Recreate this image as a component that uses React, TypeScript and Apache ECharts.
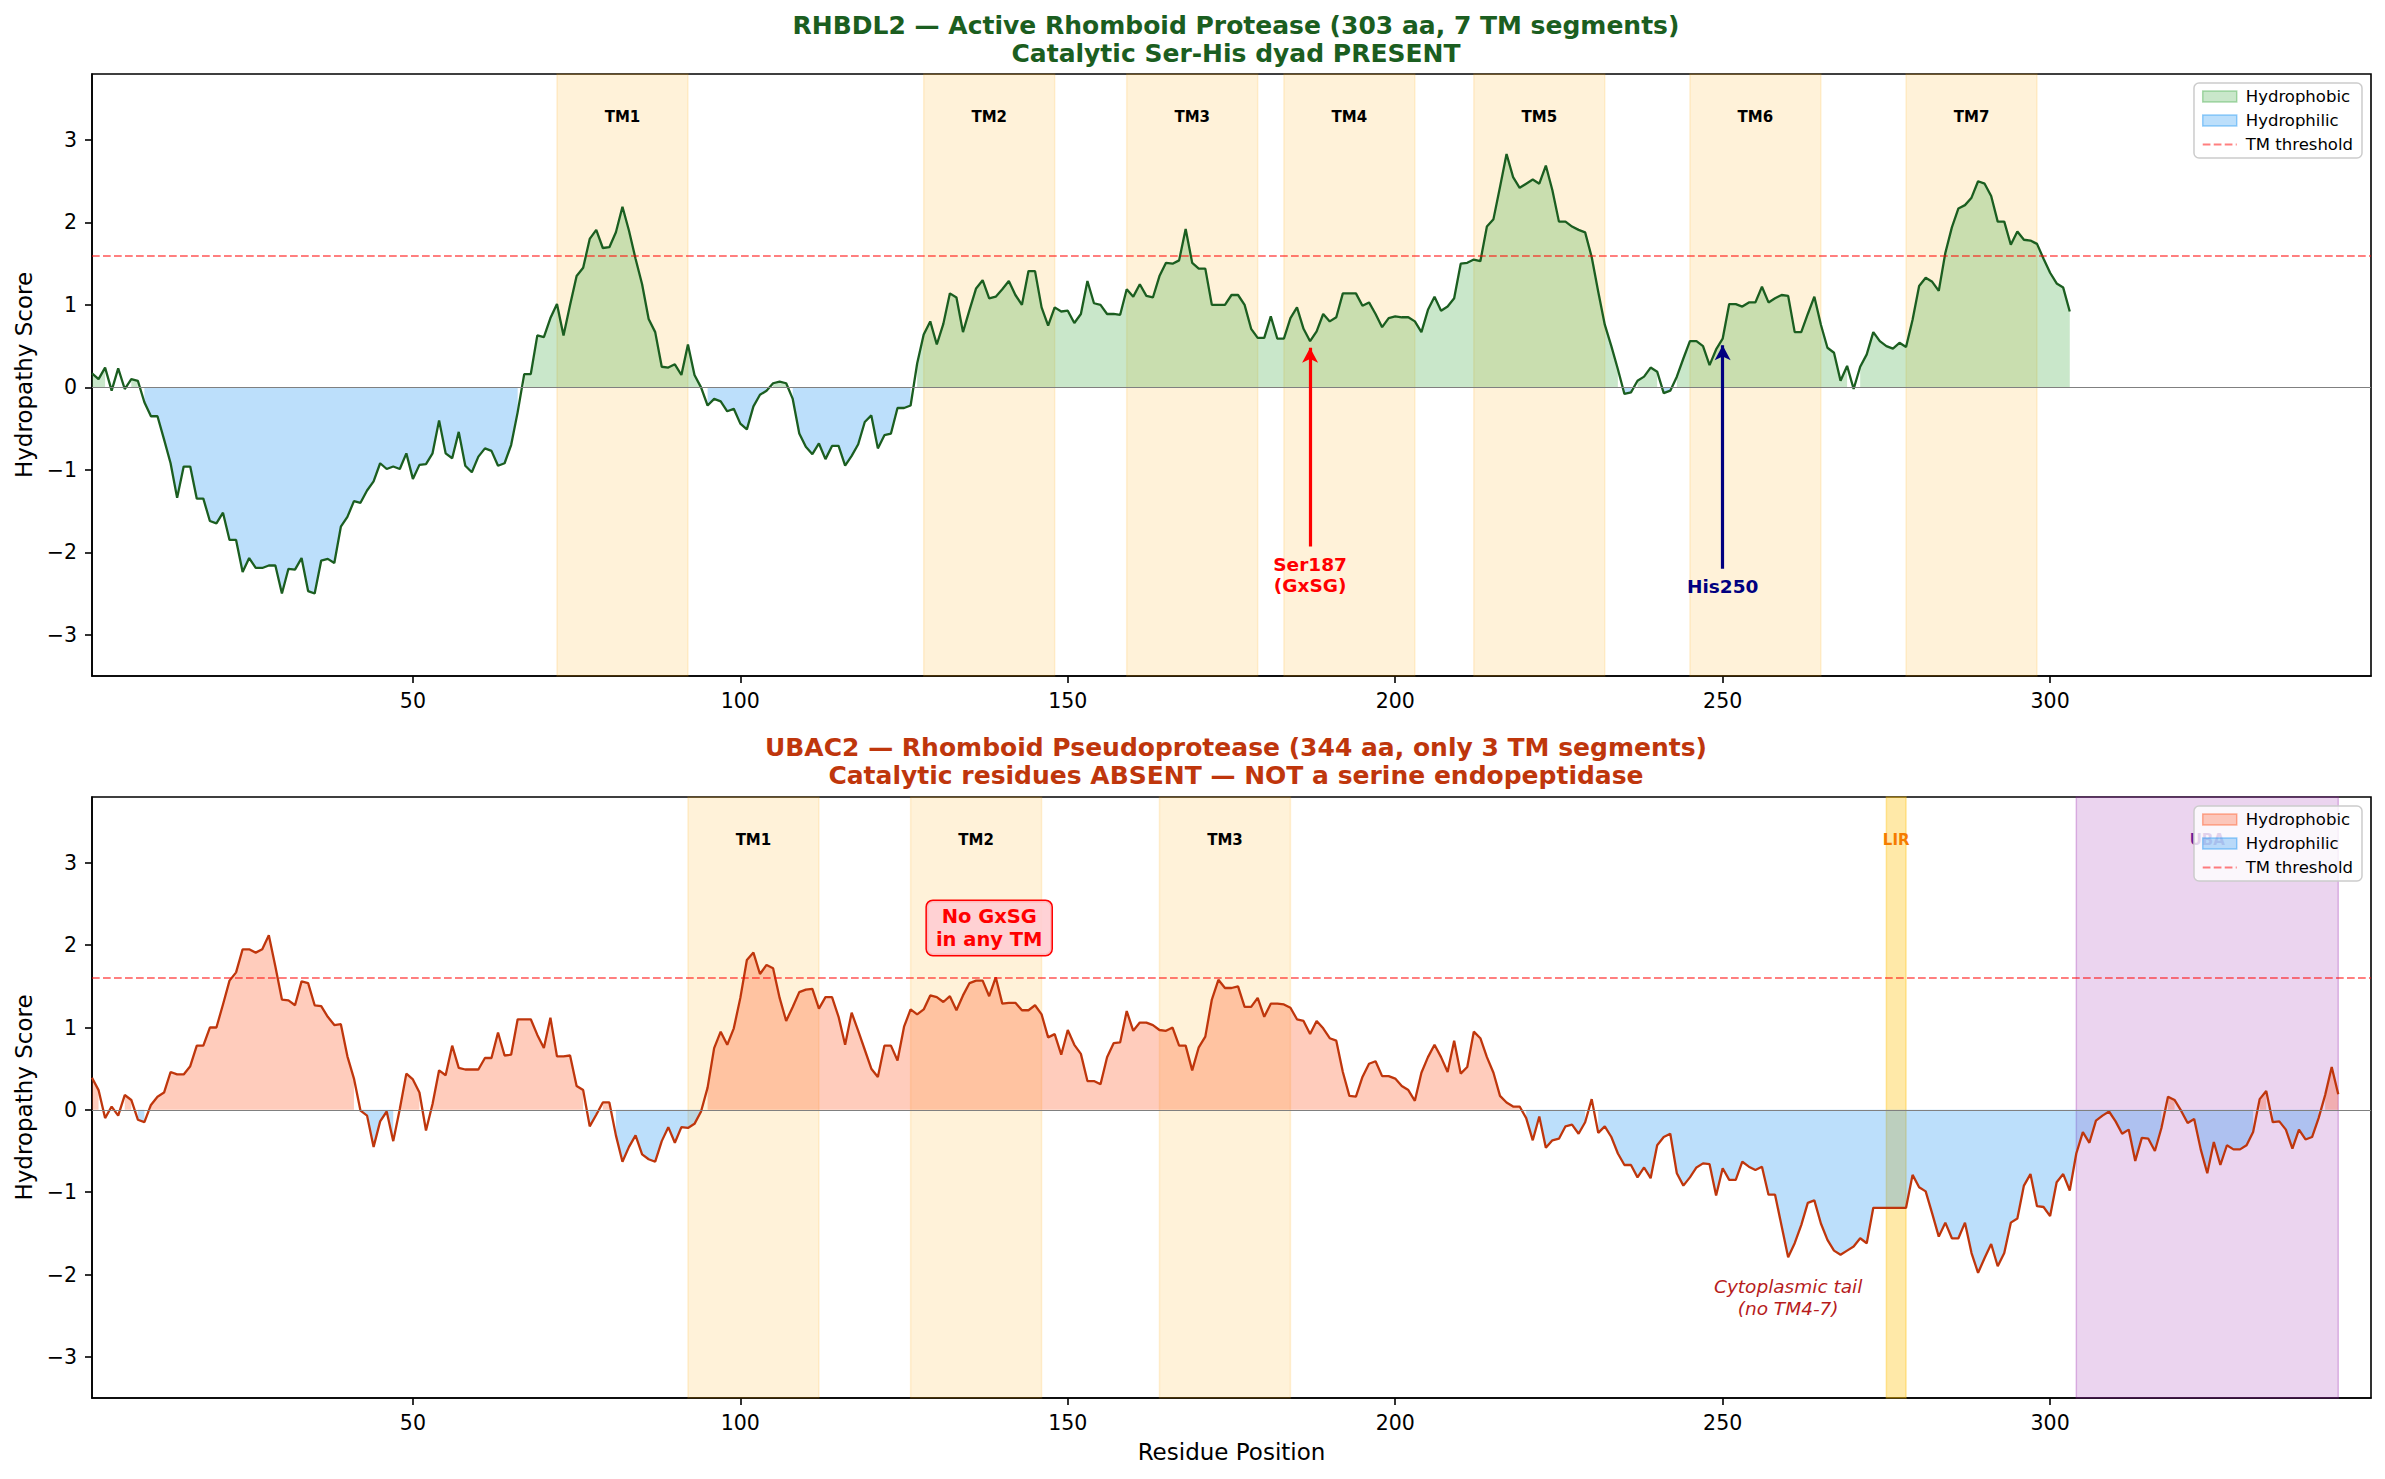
import React, { useEffect, useRef } from 'react';
import * as echarts from 'echarts';

const FONT = 'DejaVu Sans';

// hydropathy score per residue, residue 1 first
const RHBDL2_SCORES = [
    0.17, 0.10, 0.24, -0.04, 0.23, -0.02, 0.10, 0.08, -0.18, -0.35,
    -0.35, -0.63, -0.92, -1.34, -0.96, -0.96, -1.35, -1.35, -1.62, -1.65,
    -1.52, -1.85, -1.85, -2.24, -2.07, -2.19, -2.19, -2.16, -2.16, -2.50,
    -2.20, -2.21, -2.07, -2.47, -2.50, -2.10, -2.08, -2.13, -1.69, -1.57,
    -1.38, -1.40, -1.25, -1.14, -0.92, -0.99, -0.96, -0.99, -0.80, -1.11,
    -0.94, -0.93, -0.80, -0.40, -0.80, -0.86, -0.54, -0.95, -1.03, -0.84,
    -0.74, -0.77, -0.95, -0.92, -0.70, -0.30, 0.16, 0.16, 0.63, 0.61,
    0.84, 1.01, 0.63, 1.00, 1.35, 1.45, 1.80, 1.91, 1.69, 1.70,
    1.88, 2.19, 1.90, 1.56, 1.25, 0.83, 0.67, 0.25, 0.24, 0.28,
    0.15, 0.52, 0.15, 0.00, -0.22, -0.14, -0.17, -0.29, -0.26, -0.44,
    -0.51, -0.23, -0.09, -0.04, 0.05, 0.07, 0.05, -0.14, -0.56, -0.72,
    -0.81, -0.68, -0.87, -0.71, -0.71, -0.95, -0.83, -0.69, -0.42, -0.34,
    -0.74, -0.58, -0.56, -0.25, -0.25, -0.22, 0.29, 0.64, 0.80, 0.52,
    0.77, 1.14, 1.09, 0.67, 0.94, 1.20, 1.30, 1.08, 1.10, 1.19,
    1.29, 1.12, 1.00, 1.41, 1.41, 0.97, 0.75, 0.97, 0.92, 0.93,
    0.78, 0.89, 1.29, 1.02, 1.00, 0.89, 0.89, 0.88, 1.19, 1.10,
    1.25, 1.11, 1.09, 1.35, 1.51, 1.50, 1.54, 1.92, 1.51, 1.44,
    1.44, 1.00, 1.00, 1.00, 1.12, 1.12, 1.00, 0.71, 0.60, 0.60,
    0.86, 0.59, 0.59, 0.84, 0.97, 0.71, 0.56, 0.68, 0.89, 0.80,
    0.85, 1.14, 1.14, 1.14, 0.99, 1.03, 0.89, 0.73, 0.84, 0.86,
    0.85, 0.85, 0.80, 0.67, 0.94, 1.10, 0.93, 0.98, 1.08, 1.50,
    1.51, 1.55, 1.53, 1.95, 2.04, 2.43, 2.83, 2.55, 2.42, 2.47,
    2.52, 2.47, 2.69, 2.39, 2.01, 2.01, 1.95, 1.91, 1.88, 1.58,
    1.16, 0.76, 0.50, 0.22, -0.08, -0.06, 0.08, 0.13, 0.24, 0.19,
    -0.07, -0.04, 0.13, 0.35, 0.56, 0.56, 0.50, 0.27, 0.46, 0.59,
    1.01, 1.01, 0.98, 1.03, 1.03, 1.22, 1.03, 1.08, 1.12, 1.11,
    0.67, 0.67, 0.89, 1.10, 0.76, 0.48, 0.42, 0.08, 0.26, -0.02,
    0.25, 0.40, 0.67, 0.56, 0.50, 0.47, 0.54, 0.49, 0.82, 1.23,
    1.33, 1.28, 1.17, 1.63, 1.94, 2.17, 2.21, 2.30, 2.50, 2.47,
    2.32, 2.01, 2.01, 1.73, 1.89, 1.79, 1.78, 1.74, 1.56, 1.39,
    1.26, 1.21, 0.92,
];

const UBAC2_SCORES = [
    0.39, 0.24, -0.10, 0.04, -0.07, 0.18, 0.12, -0.12, -0.15, 0.06,
    0.16, 0.21, 0.46, 0.43, 0.43, 0.53, 0.78, 0.78, 1.00, 1.00,
    1.28, 1.57, 1.67, 1.95, 1.95, 1.91, 1.95, 2.12, 1.74, 1.34,
    1.33, 1.27, 1.56, 1.54, 1.27, 1.26, 1.13, 1.03, 1.04, 0.65,
    0.38, -0.01, -0.07, -0.45, -0.14, -0.02, -0.38, 0.01, 0.44, 0.37,
    0.21, -0.25, 0.07, 0.48, 0.42, 0.78, 0.51, 0.49, 0.49, 0.49,
    0.63, 0.63, 0.94, 0.66, 0.67, 1.10, 1.10, 1.10, 0.91, 0.75,
    1.12, 0.65, 0.65, 0.66, 0.29, 0.24, -0.20, -0.06, 0.09, 0.09,
    -0.31, -0.63, -0.45, -0.31, -0.54, -0.60, -0.63, -0.38, -0.21, -0.40,
    -0.21, -0.22, -0.17, -0.02, 0.27, 0.75, 0.95, 0.79, 0.99, 1.36,
    1.82, 1.91, 1.65, 1.76, 1.72, 1.36, 1.08, 1.25, 1.43, 1.46,
    1.47, 1.23, 1.37, 1.37, 1.13, 0.79, 1.18, 0.96, 0.73, 0.50,
    0.40, 0.78, 0.78, 0.60, 1.01, 1.22, 1.16, 1.22, 1.39, 1.37,
    1.31, 1.38, 1.21, 1.39, 1.54, 1.57, 1.57, 1.38, 1.61, 1.29,
    1.30, 1.30, 1.21, 1.21, 1.27, 1.16, 0.88, 0.92, 0.67, 0.97,
    0.79, 0.68, 0.35, 0.35, 0.31, 0.64, 0.81, 0.82, 1.20, 0.96,
    1.06, 1.06, 1.03, 0.97, 0.96, 1.00, 0.78, 0.78, 0.48, 0.76,
    0.89, 1.34, 1.58, 1.48, 1.48, 1.50, 1.25, 1.25, 1.36, 1.13,
    1.29, 1.29, 1.28, 1.24, 1.10, 1.08, 0.92, 1.08, 0.99, 0.87,
    0.84, 0.46, 0.17, 0.16, 0.40, 0.56, 0.59, 0.41, 0.41, 0.38,
    0.29, 0.24, 0.11, 0.45, 0.64, 0.79, 0.64, 0.46, 0.84, 0.44,
    0.52, 0.95, 0.87, 0.64, 0.45, 0.17, 0.09, 0.04, 0.04, -0.10,
    -0.37, -0.08, -0.46, -0.37, -0.35, -0.20, -0.18, -0.29, -0.15, 0.13,
    -0.28, -0.20, -0.33, -0.53, -0.67, -0.67, -0.82, -0.70, -0.83, -0.43,
    -0.33, -0.29, -0.77, -0.92, -0.82, -0.70, -0.65, -0.66, -1.04, -0.71,
    -0.85, -0.85, -0.63, -0.69, -0.73, -0.69, -1.03, -1.03, -1.41, -1.79,
    -1.62, -1.40, -1.13, -1.10, -1.38, -1.58, -1.71, -1.76, -1.71, -1.66,
    -1.56, -1.62, -1.19, -1.19, -1.19, -1.19, -1.19, -1.19, -0.79, -0.94,
    -0.99, -1.26, -1.54, -1.37, -1.56, -1.56, -1.37, -1.74, -1.98, -1.80,
    -1.63, -1.90, -1.74, -1.37, -1.32, -0.92, -0.78, -1.17, -1.18, -1.29,
    -0.88, -0.78, -0.98, -0.53, -0.27, -0.40, -0.13, -0.07, -0.02, -0.14,
    -0.29, -0.24, -0.62, -0.34, -0.35, -0.50, -0.22, 0.16, 0.12, -0.01,
    -0.16, -0.11, -0.48, -0.77, -0.39, -0.67, -0.43, -0.48, -0.48, -0.43,
    -0.27, 0.13, 0.23, -0.15, -0.14, -0.24, -0.47, -0.24, -0.36, -0.33,
    -0.10, 0.18, 0.52, 0.19,
];

const RHBDL2_TM = [[72, 92], [128, 148], [159, 179], [183, 203], [212, 232], [245, 265], [278, 298]];
const UBAC2_TM = [[92, 112], [126, 146], [164, 184]];
const LIR_SPAN = [275, 278];
const UBA_SPAN = [304, 344];

const TM_THRESHOLD = 1.6;
const X_TICKS = [50, 100, 150, 200, 250, 300];
const Y_TICKS = [-3, -2, -1, 0, 1, 2, 3];
const X_MIN = 1;
const X_MAX = 349;
const Y_MIN = -3.5;
const Y_MAX = 3.8;

const SER_SITE = 187;
const HIS_SITE = 250;

// dashed line icon for legend, with tiny corner points so it keeps its box
const DASH_ICON = 'path://M0,0L0.01,0L0,0.01Z M34,11L33.99,11L34,10.99Z M0,4.6h7.7v1.8h-7.7Z M11,4.6h7.7v1.8h-7.7Z M22,4.6h7.7v1.8h-7.7Z M33,4.6h1v1.8h-1Z';

const AXIS_LINE = { color: '#000', width: 1.6 };

const fmtTick = (v: number) => (v < 0 ? '\u2212' + Math.abs(v) : String(v));
const asPairs = (vals: number[]) => vals.map((v, i) => [i + 1, v]);
const keepIf = (vals: number[], test: (v: number) => boolean) =>
    vals.map((v, i) => [i + 1, test(v) ? v : null]);

const makeXAxis = (gridIndex: number, name: string) => ({
    type: 'value',
    gridIndex,
    min: X_MIN,
    max: X_MAX,
    name,
    nameLocation: 'middle',
    nameGap: 42,
    nameTextStyle: { fontFamily: FONT, fontSize: 23, color: '#000' },
    axisLine: { show: true, onZero: false, lineStyle: AXIS_LINE },
    axisTick: { show: true, length: 7, customValues: X_TICKS, lineStyle: AXIS_LINE },
    axisLabel: { customValues: X_TICKS, fontFamily: FONT, fontSize: 20.5, color: '#000', margin: 14 },
    splitLine: { show: false },
});

const makeYAxis = (gridIndex: number) => ({
    type: 'value',
    gridIndex,
    min: Y_MIN,
    max: Y_MAX,
    name: 'Hydropathy Score',
    nameLocation: 'middle',
    nameGap: 56,
    nameTextStyle: { fontFamily: FONT, fontSize: 23, color: '#000' },
    axisLine: { show: true, onZero: false, lineStyle: AXIS_LINE },
    axisTick: { show: true, length: 7, customValues: Y_TICKS, lineStyle: AXIS_LINE },
    axisLabel: { customValues: Y_TICKS, formatter: fmtTick, fontFamily: FONT, fontSize: 20.5, color: '#000', margin: 15 },
    splitLine: { show: false },
});

const tmAreas = (spans: number[][]) =>
    spans.map(([s, e], i) => [{ name: `TM${i + 1}`, xAxis: s }, { xAxis: e }]);

const arrow = (site: number, from: number, to: number, color: string) => [
    { coord: [site, from], symbol: 'none', lineStyle: { color, width: 3.2, type: 'solid' } },
    { coord: [site, to], symbol: 'arrow', symbolSize: [12, 15], itemStyle: { color } },
];

const note = (x: number, y: number, text: string, label: any) => ({
    coord: [x, y],
    symbol: 'circle',
    symbolSize: 1,
    itemStyle: { color: 'rgba(0,0,0,0)' },
    label: { show: true, position: 'inside', formatter: text, fontFamily: FONT, ...label },
});

const buildPanel = (
    idx: number,
    scores: number[],
    lineColor: string,
    posFill: string,
    negFill: string,
    areas: any[],
    arrows: any[],
    notes: any[],
) => [
    {
        name: 'Hydrophobic',
        type: 'line',
        xAxisIndex: idx,
        yAxisIndex: idx,
        data: keepIf(scores, v => v >= 0),
        symbol: 'none',
        connectNulls: false,
        lineStyle: { width: 0, opacity: 0 },
        areaStyle: { color: posFill, opacity: 1 },
        z: 2,
        silent: true,
        markArea: {
            silent: true,
            itemStyle: { color: 'rgba(255,165,0,0.15)', borderColor: 'rgba(255,165,0,0.15)', borderWidth: 1.5 },
            label: {
                show: true, position: 'insideTop', distance: 36,
                fontFamily: FONT, fontSize: 15, fontWeight: 'bold', color: '#000',
            },
            data: areas,
        },
    },
    {
        name: 'Hydrophilic',
        type: 'line',
        xAxisIndex: idx,
        yAxisIndex: idx,
        data: keepIf(scores, v => v < 0),
        symbol: 'none',
        connectNulls: false,
        lineStyle: { width: 0, opacity: 0 },
        areaStyle: { color: negFill, opacity: 1 },
        z: 2,
        silent: true,
    },
    { name: 'TM threshold', type: 'line', xAxisIndex: idx, yAxisIndex: idx, data: [], silent: true },
    {
        name: `profile${idx}`,
        type: 'line',
        xAxisIndex: idx,
        yAxisIndex: idx,
        data: asPairs(scores),
        symbol: 'none',
        lineStyle: { color: lineColor, width: 2.3 },
        itemStyle: { color: lineColor },
        z: 3,
        silent: true,
        markLine: {
            silent: true,
            symbol: ['none', 'none'],
            label: { show: false },
            data: [
                { yAxis: TM_THRESHOLD, lineStyle: { color: 'rgba(255,0,0,0.5)', type: [7.7, 3.3], width: 1.8 } },
                { yAxis: 0, lineStyle: { color: '#808080', type: 'solid', width: 1.2 } },
                ...arrows,
            ],
        },
        markPoint: { silent: true, data: notes },
    },
];

const makeLegend = (top: number, posFill: string, posEdge: string) => ({
    orient: 'vertical',
    right: 23,
    top,
    selectedMode: false,
    itemWidth: 34,
    itemHeight: 11,
    itemGap: 7,
    padding: [5, 9, 5, 8],
    backgroundColor: 'rgba(255,255,255,0.8)',
    borderColor: '#cccccc',
    borderWidth: 1.5,
    borderRadius: 5,
    textStyle: { fontFamily: FONT, fontSize: 16.5, color: '#000', padding: [0, 0, 0, 4] },
    data: [
        { name: 'Hydrophobic', icon: 'rect', itemStyle: { color: posFill, borderColor: posEdge, borderWidth: 1.5 } },
        { name: 'Hydrophilic', icon: 'rect', itemStyle: { color: 'rgba(33,150,243,0.3)', borderColor: 'rgba(33,150,243,0.45)', borderWidth: 1.5 } },
        { name: 'TM threshold', icon: DASH_ICON, itemStyle: { color: 'rgba(255,0,0,0.5)', borderWidth: 0 } },
    ],
});

const App: React.FC = () => {
    const chartRef = useRef<HTMLDivElement | null>(null);

    useEffect(() => {
        document.body.style.margin = '0';
        if (!chartRef.current) return;
        const chart = echarts.init(chartRef.current, null, { renderer: 'svg' });

        const topFill = 'rgba(76,175,80,0.3)';
        const bottomFill = 'rgba(255,87,34,0.3)';
        const blueFill = 'rgba(33,150,243,0.3)';

        const bottomAreas = [
            ...tmAreas(UBAC2_TM),
            [
                {
                    name: 'LIR', xAxis: LIR_SPAN[0],
                    itemStyle: { color: 'rgba(255,193,7,0.35)', borderColor: 'rgba(255,193,7,0.35)' },
                    label: { color: '#f57c00' },
                },
                { xAxis: LIR_SPAN[1] },
            ],
            [
                {
                    name: 'UBA', xAxis: UBA_SPAN[0],
                    itemStyle: { color: 'rgba(156,39,176,0.2)', borderColor: 'rgba(156,39,176,0.3)' },
                    label: { color: '#6a1b9a' },
                },
                { xAxis: UBA_SPAN[1] },
            ],
        ];

        const titleStyle = { fontFamily: FONT, fontSize: 25, fontWeight: 'bold', lineHeight: 27.5 };

        const option: any = {
            animation: false,
            title: [
                {
                    text: 'RHBDL2 \u2014 Active Rhomboid Protease (303 aa, 7 TM segments)\nCatalytic Ser-His dyad PRESENT',
                    left: 1231, top: 7, textAlign: 'center',
                    textStyle: { ...titleStyle, color: '#1b5e20' },
                },
                {
                    text: 'UBAC2 \u2014 Rhomboid Pseudoprotease (344 aa, only 3 TM segments)\nCatalytic residues ABSENT \u2014 NOT a serine endopeptidase',
                    left: 1231, top: 729, textAlign: 'center',
                    textStyle: { ...titleStyle, color: '#bf360c' },
                },
            ],
            legend: [makeLegend(83, topFill, 'rgba(76,175,80,0.45)'), makeLegend(806, bottomFill, 'rgba(255,87,34,0.45)')],
            grid: [
                { left: 92, right: 14, top: 74, height: 602, show: true, borderColor: '#000', borderWidth: 1.6 },
                { left: 92, right: 14, top: 797, height: 601, show: true, borderColor: '#000', borderWidth: 1.6 },
            ],
            xAxis: [makeXAxis(0, ''), makeXAxis(1, 'Residue Position')],
            yAxis: [makeYAxis(0), makeYAxis(1)],
            series: [
                ...buildPanel(
                    0, RHBDL2_SCORES, '#1b5e20', topFill, blueFill, tmAreas(RHBDL2_TM),
                    [
                        arrow(SER_SITE, -1.93, RHBDL2_SCORES[SER_SITE - 1] - 0.08, '#ff0000'),
                        arrow(HIS_SITE, -2.2, RHBDL2_SCORES[HIS_SITE - 1] - 0.08, '#000080'),
                    ],
                    [
                        note(SER_SITE, -2.28, 'Ser187\n(GxSG)', { color: '#ff0000', fontWeight: 'bold', fontSize: 18.5, lineHeight: 21 }),
                        note(HIS_SITE, -2.41, 'His250', { color: '#000080', fontWeight: 'bold', fontSize: 18.5 }),
                    ],
                ),
                ...buildPanel(
                    1, UBAC2_SCORES, '#bf360c', bottomFill, blueFill, bottomAreas,
                    [],
                    [
                        note(138, 2.21, 'No GxSG\nin any TM', {
                            color: '#ff0000', fontWeight: 'bold', fontSize: 19.5, lineHeight: 23,
                            backgroundColor: 'rgba(255,205,210,0.9)', borderColor: '#ff0000', borderWidth: 1.5,
                            borderRadius: 6, padding: [4, 9, 4, 9],
                        }),
                        note(260, -2.28, 'Cytoplasmic tail\n(no TM4-7)', {
                            color: '#b71c1c', fontStyle: 'italic', fontSize: 18.5, lineHeight: 22,
                        }),
                    ],
                ),
            ],
        };

        chart.setOption(option);

        return () => {
            chart.dispose();
        };
    }, []);

    return <div ref={chartRef} style={{ width: 2385, height: 1479 }} />;
};

export default App;
